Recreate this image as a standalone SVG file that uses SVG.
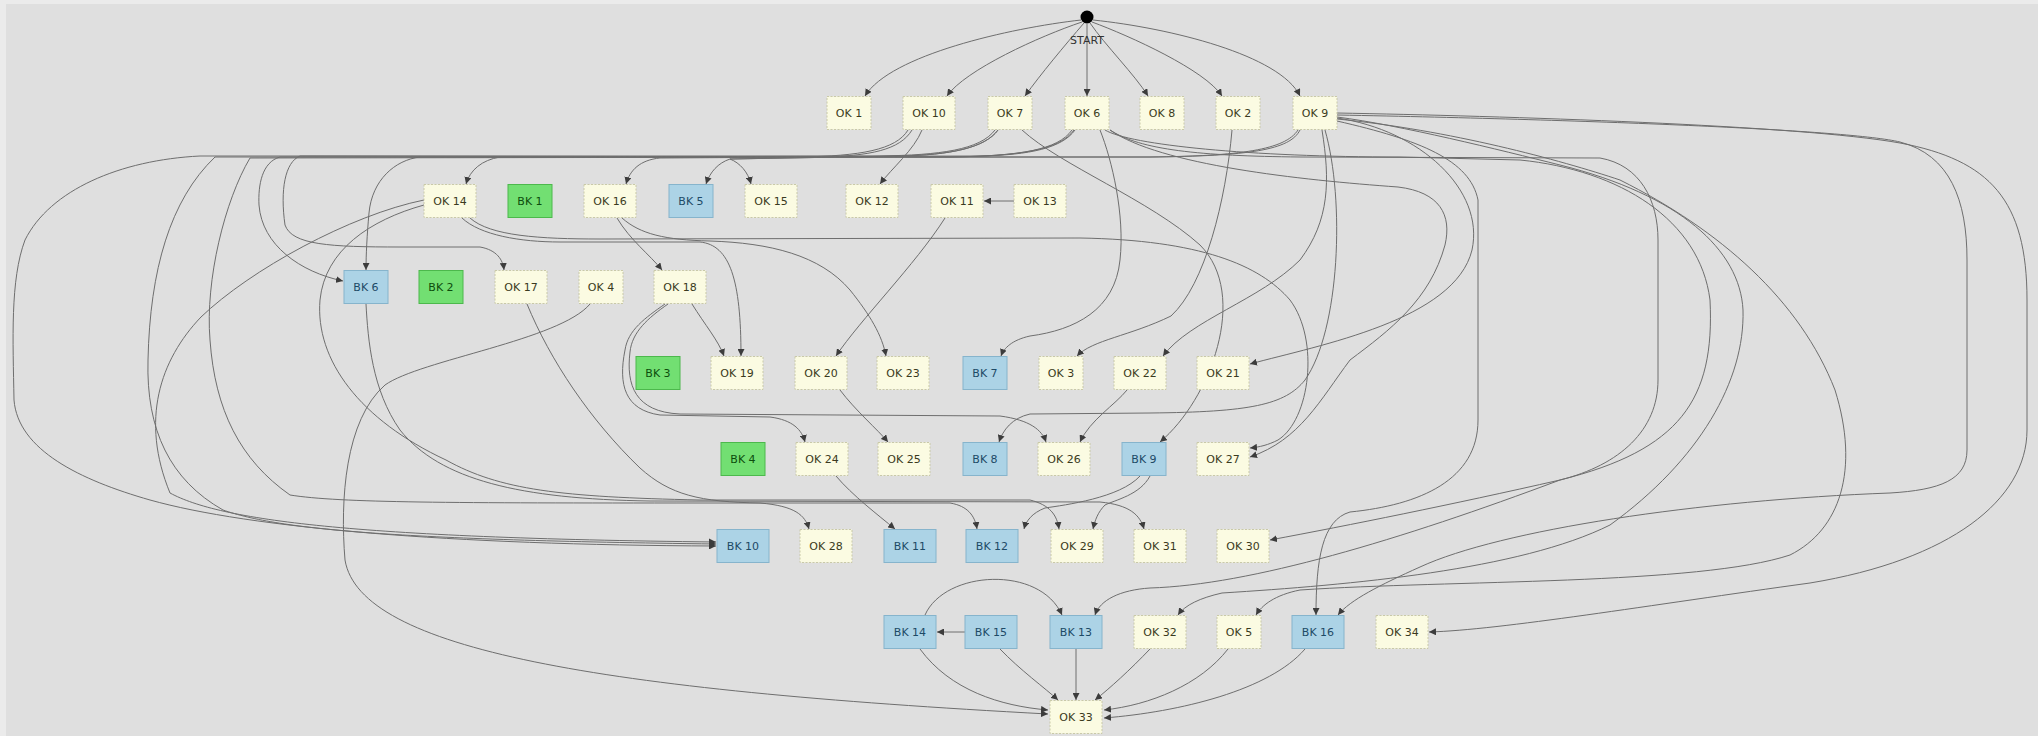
<svg xmlns="http://www.w3.org/2000/svg" width="2038" height="736" viewBox="0 0 2038 736">
<defs>
<marker id="ah" viewBox="0 0 8 8" refX="8" refY="4" markerWidth="7" markerHeight="7" markerUnits="userSpaceOnUse" orient="auto"><path d="M0,0 L8,4 L0,8 z" fill="#3c3c3c"/></marker>
<style>
.bg{fill:#dfdfdf}
.ok{fill:#fbfbe2;stroke:#c9c9a8;stroke-width:1;stroke-dasharray:2 1.5}
.bkb{fill:#acd3e6;stroke:#86b4cc;stroke-width:1}
.bkg{fill:#72df72;stroke:#4cb84c;stroke-width:1}
.t{font-family:"DejaVu Sans",sans-serif;font-size:11px;text-anchor:middle}
.tok{fill:#3a3a20}
.tbb{fill:#1d4a66}
.tbg{fill:#0d4d0d}
#edges path{fill:none;stroke:#6e6e6e;stroke-width:1;marker-end:url(#ah)}
</style>
</defs>
<rect x="0" y="0" width="2038" height="736" fill="#ebebeb"/>
<rect class="bg" x="6" y="4" width="2032" height="732"/>

<g id="edges">
<path d="M1081,20 C1010,28 890,55 865,96"/>
<path d="M1082,22 C1040,36 965,70 947,96"/>
<path d="M1084,23 C1065,45 1040,75 1025,96"/>
<path d="M1087,24 L1087,96"/>
<path d="M1090,23 C1105,45 1135,75 1148,96"/>
<path d="M1092,22 C1130,36 1205,70 1222,96"/>
<path d="M1093,20 C1170,28 1280,55 1300,96"/>
<path d="M1014,201 L984,201"/>
<path d="M922,130 C914,150 892,168 880,184"/>
<path d="M912,130 C900,150 870,156 820,157 L660,158 C640,160 630,170 626,184"/>
<path d="M998,130 C985,148 950,155 900,156 L730,159 C718,163 710,172 706,184"/>
<path d="M998,130 C985,148 950,155 900,156 L730,159 C740,163 748,172 751,184"/>
<path d="M1075,130 C1062,148 1030,155 980,156 L500,157 C482,160 470,170 466,184"/>
<path d="M1100,130 C1112,160 1125,215 1120,260 C1115,310 1075,330 1030,336 C1012,340 1004,348 1001,356"/>
<path d="M1022,130 C1060,165 1150,200 1200,245 C1250,295 1210,400 1160,442"/>
<path d="M1232,130 C1226,200 1205,285 1171,316 C1130,336 1092,340 1077,356"/>
<path d="M1322,130 C1330,180 1330,220 1300,260 C1260,300 1190,320 1163,356"/>
<path d="M1337,118 C1420,130 1485,190 1472,250 C1455,320 1320,345 1250,364"/>
<path d="M1300,130 C1290,150 1250,156 1150,157 L420,157 C395,160 372,180 369,213 C367,235 366,255 366,270"/>
<path d="M908,130 C896,150 860,156 800,157 L280,157 C262,162 258,185 259,205 C262,245 300,272 343,281"/>
<path d="M1072,130 C1058,150 1020,156 950,157 L300,156 C285,162 280,190 285,225 C292,245 330,247 400,247 L480,247 C497,250 503,260 504,270"/>
<path d="M995,130 C980,150 940,155 880,156 L200,156 C120,160 50,190 25,240 C10,280 13,340 14,400 C18,450 80,480 150,500 C250,528 450,545 716,546"/>
<path d="M1298,130 C1285,150 1240,156 1150,157 L215,157 C170,200 150,270 148,360 C146,430 170,480 223,510 C280,530 400,540 716,544"/>
<path d="M1074,130 C1060,150 1020,156 950,157 L250,158 C225,200 205,280 210,340 C215,410 240,460 290,495 C340,503 450,503 700,503 L950,503 C968,506 975,516 977,529"/>
<path d="M424,200 C350,215 250,270 201,317 C160,360 140,420 170,493 C220,520 350,538 716,542"/>
<path d="M424,205 C370,220 325,250 320,300 C315,360 360,420 446,460 C500,490 560,497 700,500 L1030,500 C1050,505 1057,515 1059,529"/>
<path d="M462,218 C480,235 520,242 560,242 L700,242 C730,245 741,280 741,356"/>
<path d="M470,218 C490,236 540,239 600,239 L1080,238 C1200,240 1260,265 1290,300 C1320,340 1310,420 1278,440 C1268,445 1260,447 1250,448"/>
<path d="M1110,130 C1160,165 1300,180 1398,187 C1440,192 1452,215 1445,245 C1430,300 1390,330 1350,360 C1320,400 1300,440 1250,457"/>
<path d="M622,218 C640,234 665,240 710,241 C770,243 820,255 850,290 C870,315 882,335 886,356"/>
<path d="M617,218 C630,240 650,255 662,270"/>
<path d="M692,304 C705,325 718,340 724,356"/>
<path d="M665,304 C645,318 628,330 625,350 C618,385 625,410 660,415 L770,417 C793,420 802,430 805,442"/>
<path d="M668,304 C648,318 632,332 630,352 C626,385 635,412 680,414 L1000,416 C1030,420 1042,430 1046,442"/>
<path d="M945,218 C915,265 860,320 836,356"/>
<path d="M840,390 C855,410 878,430 888,442"/>
<path d="M1127,390 C1115,405 1090,420 1080,442"/>
<path d="M1325,130 C1345,200 1340,330 1305,380 C1285,405 1250,412 1150,413 L1030,414 C1012,418 1003,430 999,442"/>
<path d="M836,476 C852,495 878,515 895,529"/>
<path d="M1140,476 C1120,498 1065,505 1045,508 C1032,513 1026,521 1024,529"/>
<path d="M1150,476 C1140,495 1115,500 1105,505 C1098,512 1095,520 1093,529"/>
<path d="M527,304 C550,360 590,420 640,468 C670,495 700,502 760,503 C795,506 805,515 809,529"/>
<path d="M366,304 C368,340 372,390 400,430 C440,480 520,499 650,501 L1100,502 C1130,505 1140,515 1144,529"/>
<path d="M590,304 C560,340 420,360 385,385 C345,420 340,500 345,560 C360,650 600,690 1048,714"/>
<path d="M925,615 C945,570 1040,565 1062,615"/>
<path d="M965,632 L937,632"/>
<path d="M1076,649 L1076,700"/>
<path d="M1000,649 C1020,670 1045,688 1058,700"/>
<path d="M1150,649 C1130,670 1110,688 1095,700"/>
<path d="M1228,649 C1200,685 1150,705 1104,710"/>
<path d="M1305,649 C1270,690 1180,712 1104,718"/>
<path d="M920,649 C950,690 1000,706 1048,710"/>
<path d="M1337,113 C1500,116 1800,125 1900,143 C1990,160 2027,200 2027,300 L2027,430 C2027,500 1950,560 1810,583 C1650,605 1500,630 1429,632"/>
<path d="M1337,115 C1600,120 1850,130 1900,142 C1950,155 1967,200 1967,260 L1967,450 C1967,480 1940,490 1890,493 C1700,500 1500,530 1420,567 C1380,585 1350,600 1338,615"/>
<path d="M1110,130 C1140,150 1200,156 1300,157 L1600,158 C1640,165 1658,200 1658,240 L1658,380 C1658,430 1620,465 1560,480 C1450,505 1350,525 1270,540"/>
<path d="M1337,117 C1400,125 1500,150 1560,165 C1680,195 1740,250 1743,310 C1745,380 1700,460 1610,525 C1520,570 1350,585 1222,593 C1200,598 1185,605 1178,615"/>
<path d="M1337,119 C1450,130 1560,160 1620,180 C1720,230 1800,300 1835,390 C1860,470 1840,530 1790,555 C1700,585 1450,580 1300,590 C1275,595 1262,605 1256,615"/>
<path d="M1105,130 C1130,145 1250,157 1400,157 L1520,160 C1620,170 1700,220 1710,300 C1715,400 1680,450 1560,480 C1400,540 1250,585 1150,588 C1120,590 1100,600 1095,615"/>
<path d="M1337,121 C1420,140 1470,160 1478,200 L1478,420 C1478,480 1420,505 1350,512 C1322,520 1316,560 1316,615"/>
</g>

<g id="START"><circle cx="1087" cy="17" r="6.5" fill="#000"/><text class="t" x="1087" y="44" font-size="10" fill="#333">START</text></g>

<g id="OK1"><rect class="ok" x="827" y="96.5" width="44" height="33"/><text class="t tok" x="849" y="117">OK 1</text></g>
<g id="OK10"><rect class="ok" x="903" y="96.5" width="52" height="33"/><text class="t tok" x="929" y="117">OK 10</text></g>
<g id="OK7"><rect class="ok" x="988" y="96.5" width="44" height="33"/><text class="t tok" x="1010" y="117">OK 7</text></g>
<g id="OK6"><rect class="ok" x="1065" y="96.5" width="44" height="33"/><text class="t tok" x="1087" y="117">OK 6</text></g>
<g id="OK8"><rect class="ok" x="1140" y="96.5" width="44" height="33"/><text class="t tok" x="1162" y="117">OK 8</text></g>
<g id="OK2"><rect class="ok" x="1216" y="96.5" width="44" height="33"/><text class="t tok" x="1238" y="117">OK 2</text></g>
<g id="OK9"><rect class="ok" x="1293" y="96.5" width="44" height="33"/><text class="t tok" x="1315" y="117">OK 9</text></g>

<g id="OK14"><rect class="ok" x="424" y="184.5" width="52" height="33"/><text class="t tok" x="450" y="205">OK 14</text></g>
<g id="BK1"><rect class="bkg" x="508" y="184.5" width="44" height="33"/><text class="t tbg" x="530" y="205">BK 1</text></g>
<g id="OK16"><rect class="ok" x="584" y="184.5" width="52" height="33"/><text class="t tok" x="610" y="205">OK 16</text></g>
<g id="BK5"><rect class="bkb" x="669" y="184.5" width="44" height="33"/><text class="t tbb" x="691" y="205">BK 5</text></g>
<g id="OK15"><rect class="ok" x="745" y="184.5" width="52" height="33"/><text class="t tok" x="771" y="205">OK 15</text></g>
<g id="OK12"><rect class="ok" x="846" y="184.5" width="52" height="33"/><text class="t tok" x="872" y="205">OK 12</text></g>
<g id="OK11"><rect class="ok" x="931" y="184.5" width="52" height="33"/><text class="t tok" x="957" y="205">OK 11</text></g>
<g id="OK13"><rect class="ok" x="1014" y="184.5" width="52" height="33"/><text class="t tok" x="1040" y="205">OK 13</text></g>

<g id="BK6"><rect class="bkb" x="344" y="270.5" width="44" height="33"/><text class="t tbb" x="366" y="291">BK 6</text></g>
<g id="BK2"><rect class="bkg" x="419" y="270.5" width="44" height="33"/><text class="t tbg" x="441" y="291">BK 2</text></g>
<g id="OK17"><rect class="ok" x="495" y="270.5" width="52" height="33"/><text class="t tok" x="521" y="291">OK 17</text></g>
<g id="OK4"><rect class="ok" x="579" y="270.5" width="44" height="33"/><text class="t tok" x="601" y="291">OK 4</text></g>
<g id="OK18"><rect class="ok" x="654" y="270.5" width="52" height="33"/><text class="t tok" x="680" y="291">OK 18</text></g>

<g id="BK3"><rect class="bkg" x="636" y="356.5" width="44" height="33"/><text class="t tbg" x="658" y="377">BK 3</text></g>
<g id="OK19"><rect class="ok" x="711" y="356.5" width="52" height="33"/><text class="t tok" x="737" y="377">OK 19</text></g>
<g id="OK20"><rect class="ok" x="795" y="356.5" width="52" height="33"/><text class="t tok" x="821" y="377">OK 20</text></g>
<g id="OK23"><rect class="ok" x="877" y="356.5" width="52" height="33"/><text class="t tok" x="903" y="377">OK 23</text></g>
<g id="BK7"><rect class="bkb" x="963" y="356.5" width="44" height="33"/><text class="t tbb" x="985" y="377">BK 7</text></g>
<g id="OK3"><rect class="ok" x="1039" y="356.5" width="44" height="33"/><text class="t tok" x="1061" y="377">OK 3</text></g>
<g id="OK22"><rect class="ok" x="1114" y="356.5" width="52" height="33"/><text class="t tok" x="1140" y="377">OK 22</text></g>
<g id="OK21"><rect class="ok" x="1197" y="356.5" width="52" height="33"/><text class="t tok" x="1223" y="377">OK 21</text></g>

<g id="BK4"><rect class="bkg" x="721" y="442.5" width="44" height="33"/><text class="t tbg" x="743" y="463">BK 4</text></g>
<g id="OK24"><rect class="ok" x="796" y="442.5" width="52" height="33"/><text class="t tok" x="822" y="463">OK 24</text></g>
<g id="OK25"><rect class="ok" x="878" y="442.5" width="52" height="33"/><text class="t tok" x="904" y="463">OK 25</text></g>
<g id="BK8"><rect class="bkb" x="963" y="442.5" width="44" height="33"/><text class="t tbb" x="985" y="463">BK 8</text></g>
<g id="OK26"><rect class="ok" x="1038" y="442.5" width="52" height="33"/><text class="t tok" x="1064" y="463">OK 26</text></g>
<g id="BK9"><rect class="bkb" x="1122" y="442.5" width="44" height="33"/><text class="t tbb" x="1144" y="463">BK 9</text></g>
<g id="OK27"><rect class="ok" x="1197" y="442.5" width="52" height="33"/><text class="t tok" x="1223" y="463">OK 27</text></g>

<g id="BK10"><rect class="bkb" x="717" y="529.5" width="52" height="33"/><text class="t tbb" x="743" y="550">BK 10</text></g>
<g id="OK28"><rect class="ok" x="800" y="529.5" width="52" height="33"/><text class="t tok" x="826" y="550">OK 28</text></g>
<g id="BK11"><rect class="bkb" x="884" y="529.5" width="52" height="33"/><text class="t tbb" x="910" y="550">BK 11</text></g>
<g id="BK12"><rect class="bkb" x="966" y="529.5" width="52" height="33"/><text class="t tbb" x="992" y="550">BK 12</text></g>
<g id="OK29"><rect class="ok" x="1051" y="529.5" width="52" height="33"/><text class="t tok" x="1077" y="550">OK 29</text></g>
<g id="OK31"><rect class="ok" x="1134" y="529.5" width="52" height="33"/><text class="t tok" x="1160" y="550">OK 31</text></g>
<g id="OK30"><rect class="ok" x="1217" y="529.5" width="52" height="33"/><text class="t tok" x="1243" y="550">OK 30</text></g>

<g id="BK14"><rect class="bkb" x="884" y="615.5" width="52" height="33"/><text class="t tbb" x="910" y="636">BK 14</text></g>
<g id="BK15"><rect class="bkb" x="965" y="615.5" width="52" height="33"/><text class="t tbb" x="991" y="636">BK 15</text></g>
<g id="BK13"><rect class="bkb" x="1050" y="615.5" width="52" height="33"/><text class="t tbb" x="1076" y="636">BK 13</text></g>
<g id="OK32"><rect class="ok" x="1134" y="615.5" width="52" height="33"/><text class="t tok" x="1160" y="636">OK 32</text></g>
<g id="OK5"><rect class="ok" x="1217" y="615.5" width="44" height="33"/><text class="t tok" x="1239" y="636">OK 5</text></g>
<g id="BK16"><rect class="bkb" x="1292" y="615.5" width="52" height="33"/><text class="t tbb" x="1318" y="636">BK 16</text></g>
<g id="OK34"><rect class="ok" x="1376" y="615.5" width="52" height="33"/><text class="t tok" x="1402" y="636">OK 34</text></g>

<g id="OK33"><rect class="ok" x="1050" y="700.5" width="52" height="33"/><text class="t tok" x="1076" y="721">OK 33</text></g>
</svg>
